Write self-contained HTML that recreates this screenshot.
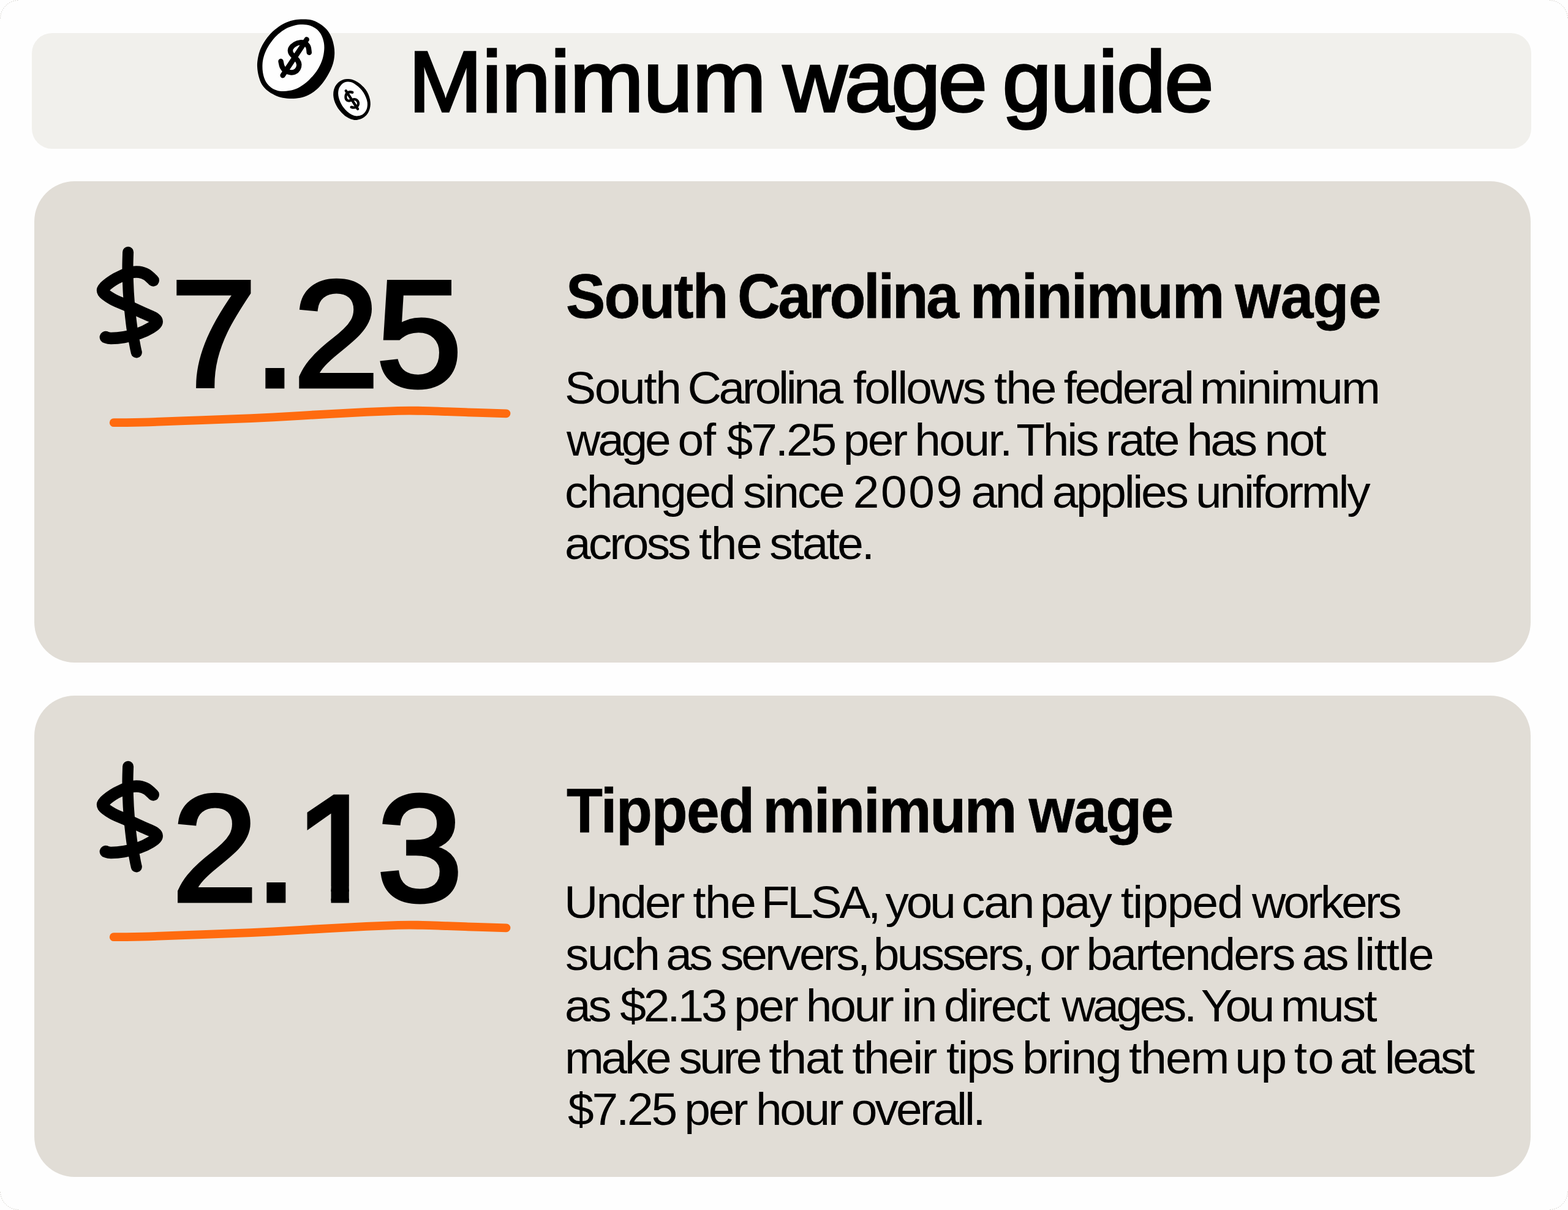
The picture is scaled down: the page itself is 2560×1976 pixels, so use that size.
<!DOCTYPE html>
<html lang="en">
<head>
<meta charset="utf-8">
<title>Minimum wage guide</title>
<style>
*{box-sizing:border-box;margin:0;padding:0}
html{font-size:calc(100vw / 25.6)}
html,body{width:25.6rem;height:19.76rem;background:#fefefe;overflow:hidden}
body{position:relative;font-family:"Liberation Sans",sans-serif;color:#000}
.page{position:absolute;left:0;top:0;width:25.6rem;height:19.76rem;background:#fefefe;border-radius:0.3rem;overflow:hidden}
.hdr{position:absolute;left:0.52rem;top:0.54rem;width:24.475rem;height:1.893rem;background:#f1f0ec;border-radius:0.33rem}
.card{position:absolute;left:0.56rem;width:24.432rem;height:7.863rem;background:#e1ddd6;border-radius:0.66rem}
.c1{top:2.96rem}
.c2{top:11.36rem}
.ln{position:absolute;white-space:nowrap;line-height:1;transform-origin:0 0}
.title{font-size:1.41rem;font-weight:400;-webkit-text-stroke:0.036rem #000}
.amt{font-size:2.46rem;font-weight:400;-webkit-text-stroke:0.07rem #000}
.h{font-size:1.015rem;font-weight:700;-webkit-text-stroke:0.008rem #000}
.p{font-size:0.745rem;font-weight:400}
.one{display:inline-block;clip-path:polygon(-0.2rem -0.2rem,2rem -0.2rem,2rem 1.849rem,0.871rem 1.849rem,0.871rem 3rem,0.584rem 3rem,0.584rem 1.849rem,-0.2rem 1.849rem)}
.art{position:absolute;width:25.6rem;height:19.76rem;overflow:visible;pointer-events:none}
</style>
</head>
<body>
<main class="page">
<header class="hdr">
<svg class="art" style="left:-0.52rem;top:-0.54rem" viewBox="0 0 2560 1976" role="img" aria-label="Two coins"><title>Coins</title>
<path fill="#000" d="M494.5 31.4C499.0 31.4 503.4 31.3 507.9 32.5C512.3 33.6 517.1 35.7 521.2 38.2C525.4 40.8 529.5 43.9 532.8 47.6C536.0 51.2 538.7 55.4 540.8 60.0C542.9 64.6 544.3 70.3 545.2 75.2C546.1 80.1 546.4 84.5 546.1 89.4C545.8 94.3 545.0 99.5 543.5 104.5C541.9 109.6 539.6 114.8 537.0 119.6C534.5 124.5 531.7 129.0 528.3 133.4C524.9 137.9 520.9 142.7 516.8 146.3C512.6 150.0 507.9 153.0 503.4 155.2C499.0 157.5 494.7 158.7 490.1 159.7C485.5 160.6 480.6 161.0 475.8 161.0C471.1 161.0 466.2 160.6 461.6 159.7C457.0 158.7 452.4 157.2 448.3 155.2C444.1 153.3 440.1 150.9 436.7 148.1C433.3 145.3 430.2 142.2 427.8 138.3C425.4 134.5 423.8 129.9 422.5 125.0C421.2 120.1 420.2 114.0 420.0 109.0C419.7 103.9 420.3 99.5 421.1 94.7C422.0 90.0 423.3 85.1 425.1 80.5C427.0 75.9 429.4 71.5 432.2 67.2C435.1 62.9 438.3 58.6 442.0 54.7C445.7 50.8 450.2 47.1 454.5 44.0C458.8 41.0 463.4 38.4 467.8 36.5C472.3 34.5 476.7 33.3 481.2 32.5C485.6 31.6 490.1 31.4 494.5 31.4Z"/>
<path fill="#fefefe" d="M494.5 40.0C498.7 40.1 502.4 40.5 506.1 41.8C509.8 43.1 513.6 45.0 516.8 47.6C519.9 50.2 522.8 53.7 524.8 57.4C526.8 61.1 528.0 65.7 528.8 69.8C529.5 74.0 529.6 77.8 529.2 82.3C528.8 86.7 528.0 91.8 526.5 96.5C525.1 101.3 522.8 106.3 520.3 110.7C517.8 115.2 514.8 119.2 511.4 123.2C508.0 127.2 504.0 131.4 499.9 134.8C495.7 138.2 491.1 141.4 486.5 143.7C481.9 145.9 476.7 147.2 472.3 148.1C467.8 149.0 463.8 149.3 459.8 149.0C455.8 148.7 451.8 148.0 448.3 146.3C444.7 144.7 441.1 142.0 438.5 139.2C435.8 136.4 433.8 133.0 432.2 129.4C430.7 125.9 429.8 121.9 429.1 117.9C428.5 113.9 428.3 109.6 428.5 105.4C428.7 101.3 429.2 97.3 430.5 93.0C431.7 88.7 433.6 83.9 435.8 79.6C438.0 75.3 440.7 71.2 443.8 67.2C446.9 63.1 450.6 59.0 454.5 55.6C458.3 52.2 462.5 49.1 466.9 46.7C471.4 44.3 476.6 42.5 481.2 41.4C485.8 40.2 490.4 39.9 494.5 40.0Z"/>
<path fill="none" stroke="#000" stroke-width="8.45" stroke-linecap="round" stroke-linejoin="round" d="M504.8 85.8C504.5 84.4 504.5 79.5 503.4 76.9C502.3 74.4 500.3 72.0 498.1 70.7C495.9 69.5 492.9 69.1 490.1 69.4C487.3 69.7 483.7 70.9 481.2 72.5C478.7 74.0 476.1 76.5 474.9 78.7C473.8 80.9 473.8 83.6 474.5 85.8C475.2 88.1 477.5 90.0 479.4 92.1C481.2 94.1 484.1 96.1 485.6 98.3C487.1 100.5 488.1 103.0 488.3 105.4C488.4 107.8 487.7 110.5 486.5 112.5C485.3 114.5 483.3 116.5 481.2 117.4C479.1 118.4 476.6 118.6 474.1 118.3C471.5 118.0 468.3 117.2 466.0 115.6C463.8 114.1 462.0 111.6 460.7 109.0C459.5 106.4 458.9 101.6 458.5 100.1"/>
<path fill="none" stroke="#000" stroke-width="8.45" stroke-linecap="round" d="M500.7 64.5L461.6 123.2"/>
<path fill="#000" d="M567.8 129.1C570.1 129.1 572.8 129.3 575.3 130.1C577.8 130.8 580.4 132.1 582.9 133.6C585.4 135.1 588.1 137.1 590.5 139.2C592.8 141.3 595.2 143.7 597.0 146.2C598.9 148.7 600.4 151.5 601.5 154.3C602.7 157.1 603.5 160.2 604.1 162.8C604.6 165.5 604.9 167.9 604.8 170.4C604.7 172.9 604.3 175.5 603.6 178.0C602.8 180.4 601.9 182.9 600.5 185.0C599.2 187.1 597.5 189.0 595.5 190.6C593.5 192.2 591.0 193.7 588.4 194.6C585.9 195.5 583.0 196.1 580.4 196.1C577.8 196.1 575.3 195.5 572.8 194.6C570.3 193.7 567.8 192.3 565.2 190.6C562.7 188.8 560.0 186.4 557.7 184.0C555.4 181.7 553.4 179.1 551.6 176.5C549.9 173.8 548.3 170.7 547.1 167.9C545.9 165.0 545.0 162.1 544.6 159.3C544.1 156.5 544.1 153.9 544.3 151.3C544.6 148.6 545.1 146.0 546.1 143.7C547.1 141.3 548.6 139.0 550.1 137.1C551.6 135.3 553.3 133.8 555.2 132.6C557.0 131.4 559.1 130.4 561.2 129.8C563.3 129.2 565.4 129.0 567.8 129.1Z"/>
<path fill="#fefefe" d="M567.8 133.6C569.4 133.7 572.1 133.8 574.3 134.6C576.6 135.5 579.1 137.1 581.4 138.7C583.6 140.2 585.9 142.1 587.9 144.2C589.9 146.3 591.9 148.7 593.5 151.3C595.1 153.8 596.5 156.6 597.5 159.3C598.6 162.0 599.4 164.8 599.8 167.4C600.1 170.0 600.0 172.6 599.5 174.9C599.1 177.3 598.2 179.6 597.0 181.5C595.8 183.4 594.2 185.3 592.5 186.5C590.7 187.8 588.4 188.6 586.4 189.1C584.4 189.5 582.5 189.6 580.4 189.3C578.3 189.0 576.0 188.2 573.8 187.0C571.6 185.9 569.4 184.4 567.3 182.5C565.2 180.7 563.1 178.4 561.2 176.0C559.4 173.5 557.5 170.6 556.2 167.9C554.8 165.2 553.8 162.4 553.1 159.8C552.5 157.2 552.1 154.7 552.1 152.3C552.1 149.8 552.5 147.3 553.1 145.2C553.8 143.1 554.9 141.3 556.2 139.7C557.4 138.1 559.4 136.6 560.7 135.6C562.1 134.7 563.1 134.5 564.2 134.1C565.4 133.8 566.1 133.5 567.8 133.6Z"/>
<path fill="none" stroke="#000" stroke-width="4.28" stroke-linecap="round" stroke-linejoin="round" d="M575.3 150.9C574.7 150.7 572.6 150.0 571.3 150.1C570.0 150.3 568.3 150.6 567.3 151.5C566.2 152.4 565.3 153.9 564.8 155.3C564.4 156.7 564.3 158.5 564.5 159.8C564.7 161.2 565.4 162.6 566.3 163.4C567.1 164.2 568.4 164.6 569.8 164.6C571.1 164.6 572.9 163.8 574.3 163.4C575.7 162.9 577.0 162.1 578.4 162.1C579.7 162.1 581.3 162.5 582.4 163.4C583.5 164.2 584.6 166.0 584.9 167.4C585.2 168.8 585.0 170.7 584.4 171.9C583.8 173.2 582.6 174.3 581.4 174.9C580.2 175.6 578.6 175.7 577.3 175.7C576.0 175.7 574.2 175.1 573.6 174.9"/>
<path fill="none" stroke="#000" stroke-width="4.28" stroke-linecap="round" d="M564.7 148.2L584.1 178.0"/>
</svg>
<h1 class="ln title" style="left:6.1538rem;top:0.092rem;transform:scaleX(1.025)"><span style="letter-spacing:-0.00353rem">Minimum</span> <span style="margin-left:-0.1207rem;letter-spacing:-0.039rem">wage</span> <span style="margin-left:-0.1133rem;letter-spacing:-0.02091rem">guide</span></h1>
</header>
<section class="card c1">
<svg class="art" style="left:-0.56rem;top:-2.96rem" viewBox="0 0 2560 1976" role="img" aria-label="Hand-drawn dollar sign with orange underline"><title>$</title>
<g transform="translate(0 0)">
<path fill="none" stroke="#000" stroke-width="19.50" stroke-linecap="round" stroke-linejoin="round" d="M250.2 457.9C248.4 456.3 243.5 450.8 239.6 448.5C235.8 446.2 231.7 444.7 227.2 444.2C222.6 443.6 218.4 443.6 212.2 445.4C206.0 447.2 196.7 450.9 189.8 454.7C183.0 458.6 174.7 464.7 171.1 468.4C167.6 472.2 166.6 473.8 168.6 477.2C170.7 480.5 176.9 484.6 183.6 488.4C190.2 492.1 200.2 495.8 208.5 499.6C216.8 503.3 226.1 507.5 233.4 510.8C240.6 514.1 248.3 516.8 252.1 519.5C255.8 522.2 256.8 524.3 255.8 527.0C254.8 529.7 250.6 532.8 245.8 535.7C241.1 538.6 234.4 541.9 227.2 544.4C219.9 546.9 209.9 549.3 202.3 550.6C194.6 552.0 186.1 552.5 181.1 552.5C176.1 552.5 173.8 550.9 172.4 550.6"/>
<path fill="none" stroke="#000" stroke-width="18.05" stroke-linecap="round" stroke-linejoin="round" d="M209.1 411.8C209.0 416.5 208.4 428.9 208.5 439.8C208.6 450.7 209.1 465.7 209.7 477.2C210.4 488.6 211.2 497.9 212.2 508.3C213.3 518.7 214.5 529.7 216.0 539.4C217.4 549.2 219.8 560.8 220.9 566.8C222.1 572.8 222.5 574.1 222.8 575.5"/>
<path fill="none" stroke="#ff6b0f" stroke-width="13.80" stroke-linecap="round" stroke-linejoin="round" d="M185.7 690.2C195.2 690.1 218.9 690.0 243.0 689.3C267.1 688.6 302.2 687.1 330.0 686.1C357.8 685.1 383.3 684.3 410.0 683.1C436.7 681.9 463.3 680.3 490.0 678.8C516.7 677.3 543.3 675.6 570.0 674.3C596.7 673.0 630.0 671.5 650.0 670.9C670.0 670.3 676.7 670.7 690.0 670.9C703.3 671.1 715.0 671.7 730.0 672.2C745.0 672.7 763.9 673.4 780.0 673.9C796.1 674.4 818.8 675.1 826.5 675.3"/>
</g>
</svg>
<div class="ln amt" style="left:2.23rem;top:1.273rem;transform:scaleX(1.02)"><span style="letter-spacing:-0.04373rem">7.25</span></div>
<h2 class="ln h" style="left:8.6783rem;top:1.379rem;transform:scaleX(0.95)"><span style="letter-spacing:-0.02015rem">South</span> <span style="margin-left:-0.1082rem;letter-spacing:-0.036rem">Carolina</span> <span style="margin-left:-0.0576rem;letter-spacing:-0.02279rem">minimum</span> <span style="margin-left:-0.0792rem;letter-spacing:-0.00874rem">wage</span></h2>
<p class="ln p" style="left:8.658rem;top:3.011rem;transform:scaleX(1.03)"><span style="letter-spacing:-0.02329rem">South</span> <span style="margin-left:-0.0918rem;letter-spacing:-0.043rem">Carolina</span> <span style="margin-left:-0.013rem;letter-spacing:-0.02798rem">follows</span> <span style="margin-left:-0.0526rem;letter-spacing:-0.0213rem">the</span> <span style="margin-left:-0.0746rem;letter-spacing:-0.03473rem">federal</span> <span style="margin-left:-0.0867rem;letter-spacing:-0.02588rem">minimum</span></p>
<p class="ln p" style="left:8.6899rem;top:3.861rem;transform:scaleX(1.03)"><span style="letter-spacing:-0.0413rem">wage</span> <span style="margin-left:-0.06rem;letter-spacing:-0.01395rem">of</span> <span style="margin-left:-0.0241rem;letter-spacing:-0.02983rem">$7.25</span> <span style="margin-left:-0.0752rem;letter-spacing:-0.02773rem">per</span> <span style="margin-left:-0.0696rem;letter-spacing:-0.02569rem">hour.</span> <span style="margin-left:-0.125rem;letter-spacing:-0.03122rem">This</span> <span style="margin-left:-0.0752rem;letter-spacing:-0.03448rem">rate</span> <span style="margin-left:-0.0656rem;letter-spacing:-0.03941rem">has</span> <span style="margin-left:-0.0577rem;letter-spacing:-0.02665rem">not</span></p>
<p class="ln p" style="left:8.6631rem;top:4.706rem;transform:scaleX(1.03)"><span style="letter-spacing:-0.02462rem">changed</span> <span style="margin-left:-0.0689rem;letter-spacing:-0.02997rem">since</span> <span style="margin-left:-0.0495rem;letter-spacing:0.025rem">2009</span> <span style="margin-left:-0.0938rem;letter-spacing:-0.03402rem">and</span> <span style="margin-left:-0.0655rem;letter-spacing:-0.03247rem">applies</span> <span style="margin-left:-0.0648rem;letter-spacing:-0.03111rem">uniformly</span></p>
<p class="ln p" style="left:8.6637rem;top:5.551rem;transform:scaleX(1.03)"><span style="letter-spacing:-0.03796rem">across</span> <span style="margin-left:-0.0466rem;letter-spacing:-0.01528rem">the</span> <span style="margin-left:-0.0786rem;letter-spacing:-0.03065rem">state.</span></p>
</section>
<section class="card c2">
<svg class="art" style="left:-0.56rem;top:-11.36rem" viewBox="0 0 2560 1976" role="img" aria-label="Hand-drawn dollar sign with orange underline"><title>$</title>
<g transform="translate(0 840)">
<path fill="none" stroke="#000" stroke-width="19.50" stroke-linecap="round" stroke-linejoin="round" d="M250.2 457.9C248.4 456.3 243.5 450.8 239.6 448.5C235.8 446.2 231.7 444.7 227.2 444.2C222.6 443.6 218.4 443.6 212.2 445.4C206.0 447.2 196.7 450.9 189.8 454.7C183.0 458.6 174.7 464.7 171.1 468.4C167.6 472.2 166.6 473.8 168.6 477.2C170.7 480.5 176.9 484.6 183.6 488.4C190.2 492.1 200.2 495.8 208.5 499.6C216.8 503.3 226.1 507.5 233.4 510.8C240.6 514.1 248.3 516.8 252.1 519.5C255.8 522.2 256.8 524.3 255.8 527.0C254.8 529.7 250.6 532.8 245.8 535.7C241.1 538.6 234.4 541.9 227.2 544.4C219.9 546.9 209.9 549.3 202.3 550.6C194.6 552.0 186.1 552.5 181.1 552.5C176.1 552.5 173.8 550.9 172.4 550.6"/>
<path fill="none" stroke="#000" stroke-width="18.05" stroke-linecap="round" stroke-linejoin="round" d="M209.1 411.8C209.0 416.5 208.4 428.9 208.5 439.8C208.6 450.7 209.1 465.7 209.7 477.2C210.4 488.6 211.2 497.9 212.2 508.3C213.3 518.7 214.5 529.7 216.0 539.4C217.4 549.2 219.8 560.8 220.9 566.8C222.1 572.8 222.5 574.1 222.8 575.5"/>
<path fill="none" stroke="#ff6b0f" stroke-width="13.80" stroke-linecap="round" stroke-linejoin="round" d="M185.7 690.2C195.2 690.1 218.9 690.0 243.0 689.3C267.1 688.6 302.2 687.1 330.0 686.1C357.8 685.1 383.3 684.3 410.0 683.1C436.7 681.9 463.3 680.3 490.0 678.8C516.7 677.3 543.3 675.6 570.0 674.3C596.7 673.0 630.0 671.5 650.0 670.9C670.0 670.3 676.7 670.7 690.0 670.9C703.3 671.1 715.0 671.7 730.0 672.2C745.0 672.7 763.9 673.4 780.0 673.9C796.1 674.4 818.8 675.1 826.5 675.3"/>
</g>
</svg>
<div class="ln amt" style="left:2.2511rem;top:1.273rem;transform:scaleX(1.02)"><span style="letter-spacing:-0.04576rem">2.<span class="one">1</span>3</span></div>
<h2 class="ln h" style="left:8.6882rem;top:1.379rem;transform:scaleX(0.95)"><span style="letter-spacing:-0.01506rem">Tipped</span> <span style="margin-left:-0.129rem;letter-spacing:-0.02321rem">minimum</span> <span style="margin-left:-0.0587rem;letter-spacing:-0.01507rem">wage</span></h2>
<p class="ln p" style="left:8.6485rem;top:3.011rem;transform:scaleX(1.03)"><span style="letter-spacing:-0.02806rem">Under</span> <span style="margin-left:-0.0556rem;letter-spacing:-0.0141rem">the</span> <span style="margin-left:-0.1162rem;letter-spacing:-0.043rem">FLSA,</span> <span style="margin-left:-0.0959rem;letter-spacing:-0.0402rem">you</span> <span style="margin-left:-0.0791rem;letter-spacing:-0.02061rem">can</span> <span style="margin-left:-0.1028rem;letter-spacing:-0.02837rem">pay</span> <span style="margin-left:-0.0442rem;letter-spacing:-0.0167rem">tipped</span> <span style="margin-left:-0.0563rem;letter-spacing:-0.03885rem">workers</span></p>
<p class="ln p" style="left:8.6728rem;top:3.856rem;transform:scaleX(1.03)"><span style="letter-spacing:-0.02306rem">such</span> <span style="margin-left:-0.0948rem;letter-spacing:-0.043rem">as</span> <span style="margin-left:-0.046rem;letter-spacing:-0.03869rem">servers,</span> <span style="margin-left:-0.1212rem;letter-spacing:-0.03612rem">bussers,</span> <span style="margin-left:-0.0952rem;letter-spacing:-0.03027rem">or</span> <span style="margin-left:-0.0715rem;letter-spacing:-0.027rem">bartenders</span> <span style="margin-left:-0.0787rem;letter-spacing:-0.043rem">as</span> <span style="margin-left:-0.0683rem;letter-spacing:-0.01367rem">little</span></p>
<p class="ln p" style="left:8.656rem;top:4.701rem;transform:scaleX(1.03)"><span style="letter-spacing:-0.043rem">as</span> <span style="margin-left:-0.0329rem;letter-spacing:-0.04012rem">$2.13</span> <span style="margin-left:-0.0637rem;letter-spacing:-0.02622rem">per</span> <span style="margin-left:-0.0652rem;letter-spacing:-0.03058rem">hour</span> <span style="margin-left:-0.0548rem;letter-spacing:-0.01702rem">in</span> <span style="margin-left:-0.0867rem;letter-spacing:-0.02759rem">direct</span> <span style="margin-left:0.0039rem;letter-spacing:-0.043rem">wages.</span> <span style="margin-left:-0.1024rem;letter-spacing:-0.043rem">You</span> <span style="margin-left:-0.0719rem;letter-spacing:-0.02755rem">must</span></p>
<p class="ln p" style="left:8.6563rem;top:5.546rem;transform:scaleX(1.03)"><span style="letter-spacing:-0.04191rem">make</span> <span style="margin-left:-0.0523rem;letter-spacing:-0.043rem">sure</span> <span style="margin-left:-0.0586rem;letter-spacing:-0.02009rem">that</span> <span style="margin-left:-0.0481rem;letter-spacing:-0.02508rem">their</span> <span style="margin-left:-0.0395rem;letter-spacing:-0.02411rem">tips</span> <span style="margin-left:-0.0651rem;letter-spacing:-0.01967rem">bring</span> <span style="margin-left:-0.0756rem;letter-spacing:-0.01996rem">them</span> <span style="margin-left:-0.1035rem;letter-spacing:-0.00373rem">up</span> <span style="margin-left:-0.0901rem;letter-spacing:0.01163rem">to</span> <span style="margin-left:-0.1285rem;letter-spacing:-0.043rem">at</span> <span style="margin-left:-0.03rem;letter-spacing:-0.03559rem">least</span></p>
<p class="ln p" style="left:8.7097rem;top:6.391rem;transform:scaleX(1.03)"><span style="letter-spacing:-0.03107rem">$7.25</span> <span style="margin-left:-0.0699rem;letter-spacing:-0.03104rem">per</span> <span style="margin-left:-0.0555rem;letter-spacing:-0.03315rem">hour</span> <span style="margin-left:-0.0549rem;letter-spacing:-0.0382rem">overall.</span></p>
</section>
<svg class="art" style="left:0rem;top:0rem" viewBox="0 0 2560 1976" aria-hidden="true">
<g fill="none" stroke="#a9a49a" stroke-opacity=".8" stroke-width="1" stroke-dasharray="1.2 2.2">
<path d="M0.5 30A30 30 0 0 1 30 0.5"/>
<path d="M2530 0.5A30 30 0 0 1 2559.5 30"/>
<path d="M2559.5 1946A30 30 0 0 1 2530 1975.5"/>
<path d="M30 1975.5A30 30 0 0 1 0.5 1946"/>
</g>
</svg>
</main>
</body>
</html>
